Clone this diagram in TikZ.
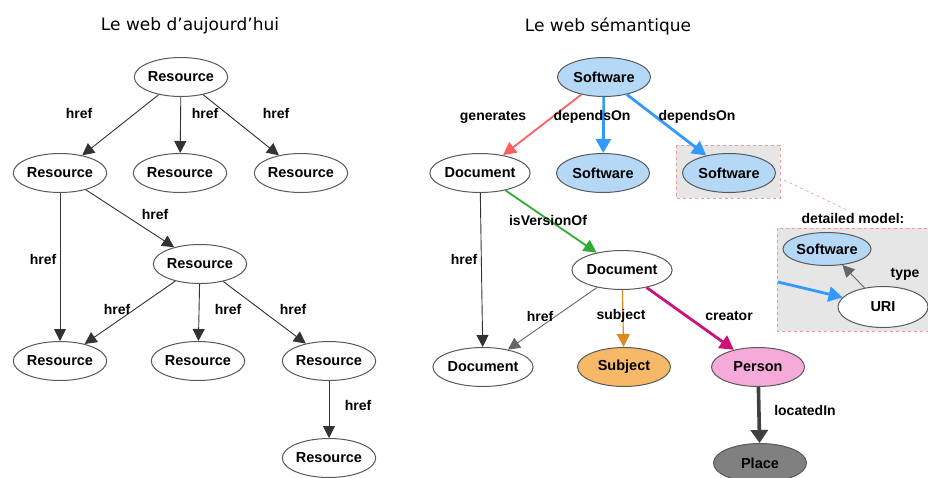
\documentclass[tikz,border=0pt]{standalone}
\usepackage{fontspec}
\setmainfont{Liberation Sans}
\newfontfamily\titlefont{DejaVu Sans}
\usetikzlibrary{arrows.meta,shapes.geometric}

\definecolor{swblue}{HTML}{B5D8F7}
\definecolor{depblue}{HTML}{3399FF}
\definecolor{genred}{HTML}{FF5F5F}
\definecolor{vergreen}{HTML}{33AA33}
\definecolor{subjorange}{HTML}{E08A1E}
\definecolor{subjfill}{HTML}{F7B868}
\definecolor{creamag}{HTML}{CC1177}
\definecolor{persfill}{HTML}{F5AADA}
\definecolor{placefill}{HTML}{808080}
\definecolor{boxgray}{HTML}{E6E6E6}
\definecolor{boxpink}{HTML}{F09A9A}

\begin{document}
\begin{tikzpicture}[x=1pt, y=-1pt,
	res/.style={ellipse, draw=black!65, line width=1pt, fill=white,
		minimum width=93pt, minimum height=39pt, inner sep=0pt,
		font=\bfseries\fontsize{14.5}{16}\selectfont},
	sw/.style={res, fill=swblue},
	lbl/.style={font=\bfseries\fontsize{14}{16}\selectfont},
	ttl/.style={font=\titlefont\fontsize{17}{20}\selectfont},
	link/.style={draw=black!80, line width=0.9pt, -{Triangle[length=12pt,width=12pt]}},
	thicklink/.style={line width=2.8pt, -{Triangle[length=14pt,width=15pt]}},
	mediumlink/.style={line width=1.8pt, -{Triangle[length=13pt,width=13pt]}},
	detailbox/.style={fill=boxgray, draw=boxpink, dashed, line width=0.6pt}]
	\useasboundingbox (0,0) rectangle (928,477);
	
	% titles
	\node[ttl] (t1) at (190,26) {Le web d’aujourd’hui};
	\node[ttl] (t2) at (608,26) {Le web sémantique};
	
	% today's web
	\node[res] (r0) at (181,77)  {Resource};
	\node[res] (r1) at (60,173)  {Resource};
	\node[res] (r2) at (180,173) {Resource};
	\node[res] (r3) at (301,173) {Resource};
	\node[res] (r4) at (200,264) {Resource};
	\node[res] (r5) at (60,361)  {Resource};
	\node[res] (r6) at (198,361) {Resource};
	\node[res] (r7) at (329,361) {Resource};
	\node[res] (r8) at (329,458) {Resource};
	
	\draw[link] (r0) -- (r1);
	\draw[link] (r0) -- (r2);
	\draw[link] (r0) -- (r3);
	\draw[link] (r1) -- (r4);
	\draw[link] (r1) -- (r5);
	\draw[link] (r4) -- (r5);
	\draw[link] (r4) -- (r6);
	\draw[link] (r4) -- (r7);
	\draw[link] (r7) -- (r8);
	
	\node[lbl] (h1) at (79,113)  {href};
	\node[lbl] (h2) at (205,113) {href};
	\node[lbl] (h3) at (276,113) {href};
	\node[lbl] (h4) at (155,214) {href};
	\node[lbl] (h5) at (43,259)  {href};
	\node[lbl] (h6) at (117,309) {href};
	\node[lbl] (h7) at (228,309) {href};
	\node[lbl] (h8) at (293,309) {href};
	\node[lbl] (h9) at (358,405) {href};
	
	% semantic web
	\draw[detailbox] (676,145) rectangle (780,198);
	\coordinate (zoomA) at (784,180);
	\coordinate (zoomB) at (847,210);
	\draw[boxpink, dashed, line width=0.6pt] (zoomA) -- (zoomB);
	\draw[detailbox] (777,228) rectangle (932,331);
	\node[lbl] (dm) at (853,218) {detailed model:};
	
	\node[sw]  (s0) at (604,77)  {Software};
	\node[res] (d1) at (480,173) {Document};
	\node[sw]  (s1) at (603,173) {Software};
	\node[sw]  (s2) at (729,173) {Software};
	\node[res] (d2) at (622,270) {Document};
	\node[res] (d3) at (483,367) {Document};
	\node[res, fill=subjfill] (sj) at (624,367) {Subject};
	\node[res, fill=persfill] (pe) at (758,367) {Person};
	\node[res, fill=placefill] (pl) at (760,463) {Place};
	\node[sw, minimum height=33pt, minimum width=88pt] (s3) at (827,249) {Software};
	\node[res, minimum width=90pt, minimum height=41pt] (uri) at (883,307) {URI};
	\coordinate (uriIn) at (778,282);
	
	\draw[genred, mediumlink] (s0) -- (d1);
	\draw[depblue, thicklink] (s0) -- (s1);
	\draw[depblue, thicklink] (s0) -- (s2);
	\draw[vergreen, mediumlink] (d1) -- (d2);
	\draw[link] (d1) -- (d3);
	\draw[link, draw=black!60] (d2) -- (d3);
	\draw[subjorange, mediumlink, line width=1.2pt] (d2) -- (sj);
	\draw[creamag, thicklink] (d2) -- (pe);
	\draw[black!75, line width=3.6pt, -{Triangle[length=13pt,width=17pt]}] (pe) -- (pl);
	\draw[depblue, thicklink] (uriIn) -- (uri);
	\draw[link, draw=black!60] (uri) -- (s3);
	
	\node[lbl] (g1) at (493,117) {generates};
	\node[lbl] (g2) at (592,117) {dependsOn};
	\node[lbl] (g3) at (697,117) {dependsOn};
	\node[lbl] (g4) at (548,220) {isVersionOf};
	\node[lbl] (g5) at (464,259) {href};
	\node[lbl] (g6) at (540,316) {href};
	\node[lbl] (g7) at (621,316) {subject};
	\node[lbl] (g8) at (729,316) {creator};
	\node[lbl] (g9) at (805,410) {locatedIn};
	\node[lbl] (g10) at (905,274) {type};
\end{tikzpicture}
\end{document}
